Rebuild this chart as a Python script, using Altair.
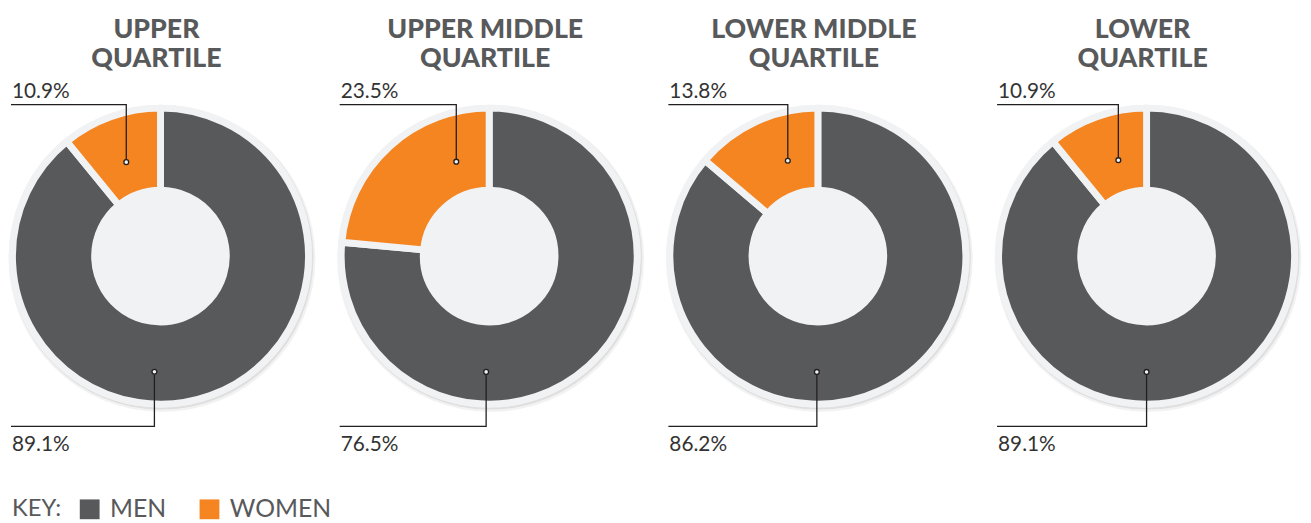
import math
import altair as alt
import pandas as pd

# ---- data ----
quartiles = ["UPPER\nQUARTILE", "UPPER MIDDLE\nQUARTILE", "LOWER MIDDLE\nQUARTILE", "LOWER\nQUARTILE"]
men_pct = [89.1, 76.5, 86.2, 89.1]
women_pct = [10.9, 23.5, 13.8, 10.9]
genders = ["MEN", "WOMEN"]
# angle (degrees clockwise from 12 o'clock) where each leader-line pin sits
women_pin_angle = [-20.0, -19.2, -17.5, -16.4]
men_pin_angle = [183.0, 181.5, 180.5, 180.0]

# ---- styling / layout ----
DARK = "#58595b"
ORANGE = "#f48521"
BG = "#f1f2f4"
INK = "#231f20"
LABEL_INK = "#333333"
PANEL_W, PANEL_H = 310, 450
CX, CY = 152, 248
R_BG, R_OUT, R_IN, GAP = 153, 146, 70, 7
PIN_R_W, PIN_R_M = 101, 117
LINE_TOP, LINE_BOT, LINE_LEFT = -153, 172, -151
LABEL_X, LABEL_TOP, LABEL_BOT = -150, -160, 197
TITLE_X, TITLE_Y = -4, -220

xs = alt.Scale(domain=[-CX, PANEL_W - CX], nice=False, zero=False)
ys = alt.Scale(domain=[-CY, PANEL_H - CY], nice=False, zero=False, reverse=True)


def xd(v):
    return alt.XDatum(v, type="quantitative", scale=xs, axis=None)


def yd(v):
    return alt.YDatum(v, type="quantitative", scale=ys, axis=None)


legend = alt.Legend(
    title="KEY:", orient="none", legendX=2, legendY=491, direction="horizontal",
    titleOrient="left", symbolType="square", symbolSize=400, symbolStrokeWidth=0,
    labelFont="Lato", labelFontSize=25, labelFontWeight=400, labelColor=DARK,
    titleFont="Lato", titleFontSize=24, titleFontWeight=400, titleColor=DARK,
    titlePadding=16, labelOffset=8, columnPadding=31,
)

one = pd.DataFrame({"k": [0]})


def panel(i):
    slices = pd.DataFrame({"gender": genders, "value": [men_pct[i], women_pct[i]], "ord": [0, 1]})

    shadow1 = alt.Chart(one).mark_arc(radius=R_BG + 2, theta=0, theta2=2 * math.pi,
                                      fill="#000000", opacity=0.05).encode(x=xd(1.5), y=yd(2.5))
    shadow2 = alt.Chart(one).mark_arc(radius=R_BG + 0.5, theta=0, theta2=2 * math.pi,
                                      fill="#000000", opacity=0.08).encode(x=xd(1), y=yd(1.5))
    bgc = alt.Chart(one).mark_arc(radius=R_BG, theta=0, theta2=2 * math.pi,
                                  fill=BG).encode(x=xd(0), y=yd(0))

    donut = alt.Chart(slices).mark_arc(
        radius=R_OUT + GAP / 2, radius2=R_IN - GAP / 2,
        stroke=BG, strokeWidth=GAP, strokeJoin="round",
    ).encode(
        theta=alt.Theta("value:Q", stack=True),
        color=alt.Color("gender:N", scale=alt.Scale(domain=genders, range=[DARK, ORANGE]), legend=legend),
        order=alt.Order("ord:Q"),
        x=xd(0), y=yd(0),
    )

    aw = math.radians(women_pin_angle[i])
    am = math.radians(men_pin_angle[i])
    wx, wy = PIN_R_W * math.sin(aw), -PIN_R_W * math.cos(aw)
    mx, my = PIN_R_M * math.sin(am), -PIN_R_M * math.cos(am)

    lines = pd.DataFrame({
        "which": ["w", "w", "w", "m", "m", "m"],
        "step": [0, 1, 2, 0, 1, 2],
        "x": [LINE_LEFT, wx, wx, LINE_LEFT, mx, mx],
        "y": [LINE_TOP, LINE_TOP, wy, LINE_BOT, LINE_BOT, my],
    })
    leader = alt.Chart(lines).mark_line(color=INK, strokeWidth=1.3).encode(
        x=alt.X("x:Q", scale=xs, axis=None),
        y=alt.Y("y:Q", scale=ys, axis=None),
        detail="which:N",
        order="step:Q",
    )

    pins = pd.DataFrame({"x": [wx, mx], "y": [wy, my]})
    pin = alt.Chart(pins).mark_point(shape="circle", size=24, filled=False, fill=BG, fillOpacity=1,
                                     stroke=INK, strokeWidth=1.3, opacity=1).encode(
        x=alt.X("x:Q", scale=xs, axis=None),
        y=alt.Y("y:Q", scale=ys, axis=None),
    )

    labels = pd.DataFrame({
        "t": [f"{women_pct[i]:.1f}%", f"{men_pct[i]:.1f}%"],
        "x": [LABEL_X, LABEL_X],
        "y": [LABEL_TOP, LABEL_BOT],
    })
    lab = alt.Chart(labels).mark_text(align="left", baseline="alphabetic", font="Lato",
                                      fontSize=21, fontWeight=400, color=LABEL_INK).encode(
        x=alt.X("x:Q", scale=xs, axis=None),
        y=alt.Y("y:Q", scale=ys, axis=None),
        text="t:N",
    )

    tdf = pd.DataFrame({"t": [quartiles[i]], "x": [TITLE_X], "y": [TITLE_Y]})
    title = alt.Chart(tdf).mark_text(align="center", baseline="alphabetic", lineBreak="\n",
                                     lineHeight=29, font="Lato", fontSize=27, fontWeight=900,
                                     color=DARK).encode(
        x=alt.X("x:Q", scale=xs, axis=None),
        y=alt.Y("y:Q", scale=ys, axis=None),
        text="t:N",
    )

    return alt.layer(shadow1, shadow2, bgc, donut, leader, pin, lab, title).properties(
        width=PANEL_W, height=PANEL_H
    )


chart = alt.hconcat(*[panel(i) for i in range(4)], spacing=20).properties(
    padding=0, background="white"
).configure_view(stroke=None)

chart.save("out.html", embed_options={"renderer": "svg", "actions": False})
